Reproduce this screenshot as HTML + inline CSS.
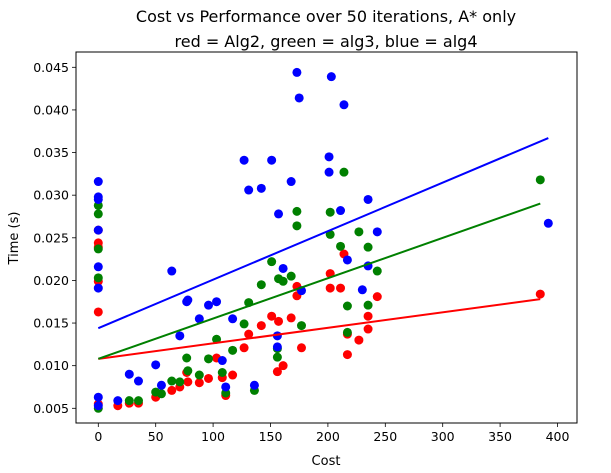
<!DOCTYPE html>
<html><head><meta charset="utf-8"><style>
body{margin:0;background:#fff;}
svg{display:block;font-family:"DejaVu Sans","Liberation Sans",sans-serif;}
</style></head><body>
<svg id="chart" width="611" height="473" viewBox="0 0 611 473">
<rect width="611" height="473" fill="#fff"/>
<text x="326" y="22" font-size="16" text-anchor="middle">Cost vs Performance over 50 iterations, A* only</text>
<text x="326" y="47" font-size="16" text-anchor="middle">red = Alg2, green = alg3, blue = alg4</text>
<g id="plot"></g>
<text x="326" y="465" font-size="13" text-anchor="middle">Cost</text>
<text transform="translate(18,238) rotate(-90)" font-size="13" text-anchor="middle">Time (s)</text>
</svg>
<script>
const xTicks=[0,50,100,150,200,250,300,350,400];
const yTicks=[0.005,0.010,0.015,0.020,0.025,0.030,0.035,0.040,0.045];
const yTickLabels=["0.005","0.010","0.015","0.020","0.025","0.030","0.035","0.040","0.045"];
const redCost=[0,0,0,0,0,0,17,27,35,50,64,71,77,78,88,96,103,108,111,117,127,131,142,151,156,157,161,168,173,173,177,202,202,214,211,217,217,227,235,235,243,385];
const redTime=[0.0259,0.0244,0.0239,0.0199,0.0163,0.0055,0.0053,0.0056,0.0056,0.0063,0.0071,0.0075,0.0092,0.0081,0.0080,0.0085,0.0109,0.0086,0.0065,0.0089,0.0121,0.0137,0.0147,0.0158,0.0093,0.0152,0.0100,0.0156,0.0193,0.0182,0.0121,0.0208,0.0191,0.0231,0.0191,0.0113,0.0137,0.0130,0.0158,0.0143,0.0181,0.0184];
const greenCost=[0,0,0,0,0,27,35,50,55,64,71,77,78,88,96,103,108,111,117,127,131,136,142,151,156,156,157,161,168,173,173,177,202,202,214,211,227,235,243,217,217,235,385];
const greenTime=[0.0288,0.0278,0.0237,0.0203,0.0050,0.0059,0.0059,0.0069,0.0067,0.0082,0.0081,0.0109,0.0094,0.0089,0.0108,0.0131,0.0092,0.0068,0.0118,0.0149,0.0174,0.0071,0.0195,0.0222,0.0120,0.0110,0.0202,0.0199,0.0205,0.0281,0.0264,0.0147,0.0280,0.0254,0.0327,0.0240,0.0257,0.0239,0.0211,0.0170,0.0139,0.0171,0.0318];
const blueCost=[0,0,0,0,0,0,0,0,17,27,35,50,55,64,77,78,71,88,96,103,108,111,117,127,131,136,142,151,156,156,157,161,168,173,175,177,201,201,203,214,211,217,235,235,243,230,392];
const blueTime=[0.0316,0.0298,0.0295,0.0259,0.0216,0.0191,0.0063,0.0053,0.0059,0.0090,0.0082,0.0101,0.0077,0.0211,0.0175,0.0177,0.0135,0.0155,0.0171,0.0175,0.0106,0.0075,0.0155,0.0341,0.0306,0.0077,0.0308,0.0341,0.0135,0.0122,0.0278,0.0214,0.0316,0.0444,0.0414,0.0188,0.0345,0.0327,0.0439,0.0406,0.0282,0.0224,0.0295,0.0217,0.0257,0.0189,0.0267];
// fitted trend lines [red, green, blue]
const trendIntercept=[0.0108,0.0108,0.0144];
const trendSlope=[0.0000182,0.0000473,0.0000569];

const L=76,R=577,T=52,B=423;
const xs=v=>98.3+v*1.148;
const ys=v=>67.3+(0.045-v)*8525;
const NS="http://www.w3.org/2000/svg";
const g=document.getElementById('plot');
function mk(tag,attrs){const e=document.createElementNS(NS,tag);for(const k in attrs)e.setAttribute(k,attrs[k]);g.appendChild(e);return e;}

xTicks.forEach(t=>{
  const x=xs(t);
  const tk=mk('line',{x1:x,x2:x,y1:B,y2:B+4,stroke:'#000','stroke-width':0.8});
  
  
  const lb=mk('text',{x:x,y:B+18,'font-size':12.5,'text-anchor':'middle'});
  
  
  lb.textContent=t;
});
yTicks.forEach((t,i)=>{
  const y=ys(t);
  const tk=mk('line',{x1:L-4,x2:L,y1:y,y2:y,stroke:'#000','stroke-width':0.8});
  
  
  const lb=mk('text',{x:L-7,y:y+4.5,'font-size':12.5,'text-anchor':'end'});
  
  
  lb.textContent=yTickLabels[i];
});

const colors={red:'#ff0000',green:'#008000',blue:'#0000ff'};
const series=[['red',redCost,redTime],['green',greenCost,greenTime],['blue',blueCost,blueTime]];
series.forEach(([c,X,Y])=>{
  X.forEach((v,i)=>{
    const p=mk('circle',{cx:xs(v),cy:ys(Y[i]),r:4.5,fill:colors[c]});
    
    
  });
});
series.forEach(([c,X,Y],k)=>{
  const m=trendSlope[k],b=trendIntercept[k];
  const x0=Math.min(...X),x1=Math.max(...X);
  const ln=mk('line',{x1:xs(x0),y1:ys(m*x0+b),x2:xs(x1),y2:ys(m*x1+b),stroke:colors[c],'stroke-width':2});
  
  
});
const fr=mk('rect',{x:L,y:T,width:R-L,height:B-T,fill:'none',stroke:'#000','stroke-width':1});


</script>
</body></html>
